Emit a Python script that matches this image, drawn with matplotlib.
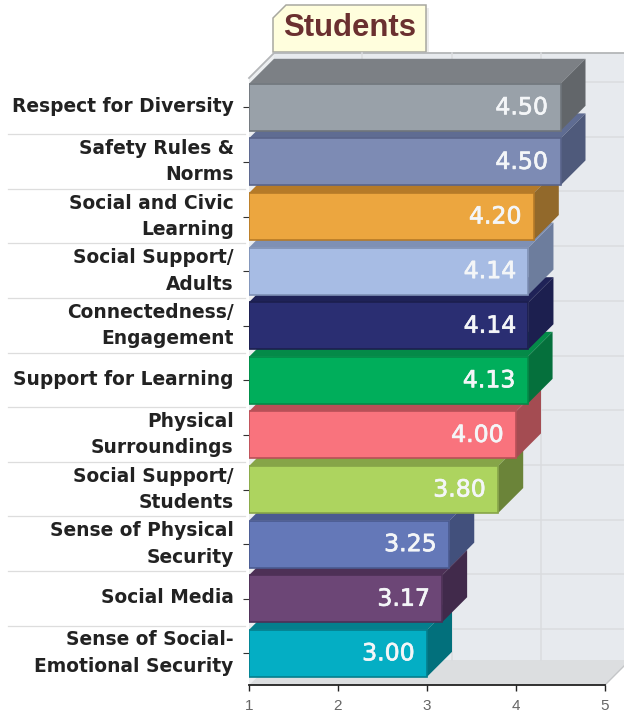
import matplotlib
matplotlib.use('Agg')
import matplotlib.pyplot as plt
import matplotlib.patheffects as pe
from matplotlib.patches import Polygon
from matplotlib.transforms import ScaledTranslation

W, H = 624, 714

labels = ['Respect for Diversity', 'Safety Rules &\nNorms', 'Social and Civic\nLearning',
          'Social Support/\nAdults', 'Connectedness/\nEngagement', 'Support for Learning',
          'Physical\nSurroundings', 'Social Support/\nStudents', 'Sense of Physical\nSecurity',
          'Social Media', 'Sense of Social-\nEmotional Security']
values = [4.50, 4.50, 4.20, 4.14, 4.14, 4.13, 4.00, 3.80, 3.25, 3.17, 3.00]
front_colors = ['#99a1a9', '#7d8bb4', '#eca63f', '#a7bce4', '#2a2e72', '#00ae5b',
                '#f9737d', '#add45f', '#6478b8', '#6c4676', '#04aec4']
top_colors = ['#7c8085', '#5f6c92', '#b57a28', '#7e90b5', '#1f2257', '#048a48',
              '#b85057', '#86a548', '#4a5a90', '#4d3056', '#047f8d']
side_colors = ['#62666a', '#4f5a7b', '#92692b', '#6d7d9d', '#1c1f4f', '#05703c',
               '#a44c52', '#6b8439', '#42507c', '#412a4b', '#02707c']
edge_colors = ['#6f757b', '#59648a', '#b57a28', '#7e90b5', '#1c1f4f', '#048a48',
               '#b85057', '#86a548', '#4a5a90', '#4d3056', '#047f8d']
xticks = [1, 2, 3, 4, 5]

fig = plt.figure(figsize=(W / 100, H / 100), dpi=100)

# backdrop in pixel coordinates: walls, floor, title tab
bg = fig.add_axes([0, 0, 1, 1], zorder=0)
bg.set_xlim(0, W)
bg.set_ylim(H, 0)
bg.axis('off')

bg.add_patch(Polygon([(274, 53), (W, 53), (W, 660), (274, 660)], fc='#e7eaee', ec='none'))
bg.add_patch(Polygon([(249, 78), (274, 53), (274, 660), (249, 685)], fc='#eceef0', ec='none'))
bg.add_patch(Polygon([(249, 685), (274, 660), (630, 660), (605, 685)], fc='#dcdee0', ec='none'))
bg.plot([249, 274, W], [78, 53, 53], color='#b4b6b8', lw=1.3)
bg.plot([605, 624], [685, 666], color='#c4c6c8', lw=1)
for gx in [362, 452, 541]:
    bg.plot([gx, gx], [53, 660], color='#dadcdf', lw=1.1)
for k in range(11):
    gy = 82 + 54.7 * k
    bg.plot([274, W], [gy, gy], color='#dadcdf', lw=1.1)

# label separators
for k in range(1, 11):
    gy = 79.5 + 54.6 * k
    bg.plot([8, 245], [gy, gy], color='#dddddd', lw=0.9)

# shadow + tab
bg.add_patch(Polygon([(276, 21), (289, 8), (429, 8), (429, 52), (276, 52)], fc='#ececec', ec='none'))
bg.add_patch(Polygon([(273, 52), (273, 18), (286, 5), (426, 5), (426, 52)],
                     fc='#fffedd', ec='#a8a8a0', lw=1.1))
bg.text(349.5, 28, 'Students', color='#6b3030', fontsize=22.4, fontweight='bold',
        family=['Liberation Sans'], ha='center', va='center')

# chart axes: x 1..5 over 249..605 px, one row 54.6 px
ax = fig.add_axes([249 / W, 1 - 685 / H, 356 / W, 605 / H], zorder=1)
ax.patch.set_alpha(0)
ax.set_xlim(1, 5)
ax.set_ylim(10.58, -0.5)
px = 356 / 4
py = 54.6
dx = 25 / px
dy = 25 / py
bar_h = 47 / py

for i in range(len(values) - 1, -1, -1):
    v = values[i]
    z = 20 - i
    t = i - bar_h / 2
    b = i + bar_h / 2
    ax.add_patch(Polygon([(1, t), (1 + dx, t - dy), (v + dx, t - dy), (v, t)],
                         fc=top_colors[i], ec='none', zorder=z, clip_on=False))
    ax.add_patch(Polygon([(v, t), (v + dx, t - dy), (v + dx, b - dy), (v, b)],
                         fc=side_colors[i], ec='none', zorder=z, clip_on=False))
    ax.barh(i, v - 1, left=1, height=bar_h, color=front_colors[i], edgecolor=edge_colors[i],
            linewidth=1.2, zorder=z)
    ax.annotate('%.2f' % v, (v, i), xytext=(-9, 0), textcoords='offset points', color='#f4f6f8',
                fontsize=17, ha='right', va='center', zorder=z,
                path_effects=[pe.withStroke(linewidth=0.5, foreground='#f4f6f8')])

ax.set_xticks(xticks)
ax.set_yticks(range(len(labels)))
ax.set_yticklabels(labels, fontweight='bold', fontsize=13.4, color='#222222',
                   linespacing=1.5, ha='right')
ax.tick_params(axis='y', length=4.5, width=0.8, color='#333333', pad=6.5)
ax.tick_params(axis='x', length=4, width=1, color='#222222', pad=6, labelsize=11, labelcolor='#666666')
for t in ax.get_xticklabels():
    t.set_family(['Liberation Sans'])
for t in ax.get_yticklabels():
    up = 6 if '\n' in t.get_text() else 3
    t.set_transform(t.get_transform() + ScaledTranslation(0, up / 100, fig.dpi_scale_trans))
for s in ['top', 'right', 'left']:
    ax.spines[s].set_visible(False)
ax.spines['bottom'].set_color('#222222')
ax.spines['bottom'].set_linewidth(1.3)

fig.savefig('out.png', dpi=100)
